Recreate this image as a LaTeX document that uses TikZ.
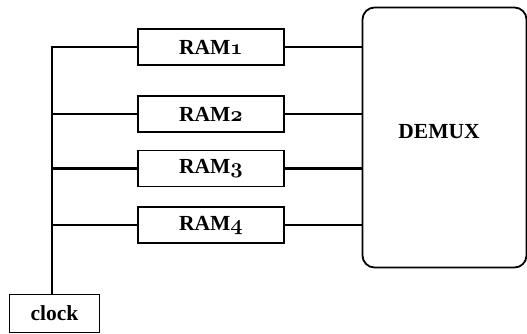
\RequirePackage{fix-cm}
\documentclass[tikz,border=0pt]{standalone}
\usepackage{fontspec}
\setmainfont{Liberation Serif}
\newcommand{\osn}[1]{{\usefont{OML}{cmm}{b}{it}#1}}
\begin{document}
\begin{tikzpicture}[x=1pt,y=-1pt,
  lbl/.style={font=\fontsize{21.5}{24}\selectfont\bfseries},
  rambox/.style={draw,line width=1.8pt,minimum width=146pt,minimum height=36pt,inner sep=0pt,lbl},
  wire/.style={line width=1.5pt},
  wirethick/.style={line width=2.2pt}]
\useasboundingbox (0,0) rectangle (527,333);
\node[rambox] (r1) at (211,47) {RAM\osn{1}};
\node[rambox] (r2) at (211,114) {RAM\osn{2}};
\node[rambox] (r3) at (211,168.5) {RAM\osn{3}};
\node[rambox] (r4) at (211,225) {RAM\osn{4}};
\node[draw,line width=1.8pt,rounded corners=12pt,minimum width=164pt,minimum height=260pt,inner sep=0pt] (dm) at (444.5,137.5) {};
\node[lbl] (dt) at (439,132) {DEMUX};
\node[draw,line width=1.8pt,minimum width=90pt,minimum height=38pt,inner sep=0pt,lbl,anchor=north west] (ck) at (8.5,293.5) {clock};
\coordinate (t) at (52,47);
\draw[wirethick] (ck.north -| t) -- (t) -- (r1.west);
\draw[wirethick] (r2.west) -- (r2.west -| t);
\draw[wirethick] (r3.west) -- (r3.west -| t);
\draw[wire] (r4.west) -- (r4.west -| t);
\draw[wire] (r1.east) -- (r1.east -| dm.west);
\draw[wirethick] (r2.east) -- (r2.east -| dm.west);
\draw[wirethick] (r3.east) -- (r3.east -| dm.west);
\draw[wire] (r4.east) -- (r4.east -| dm.west);
\end{tikzpicture}
\end{document}
